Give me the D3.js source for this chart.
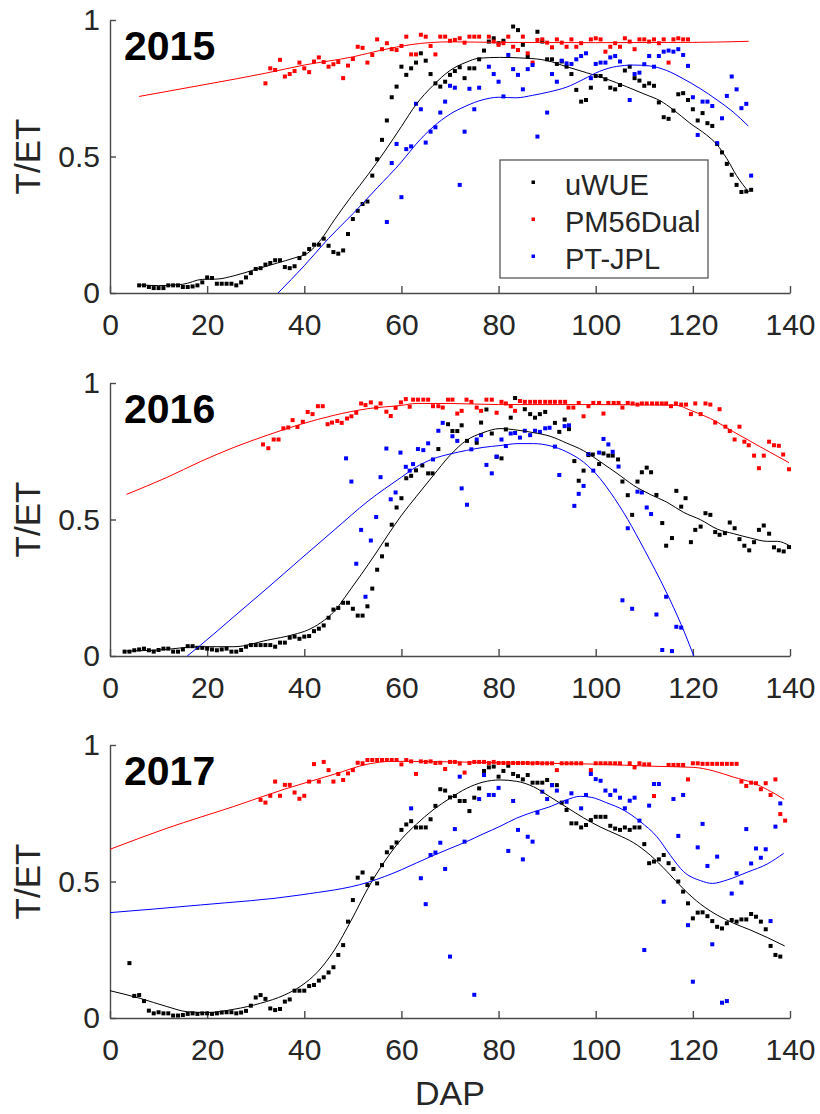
<!DOCTYPE html>
<html>
<head>
<meta charset="utf-8">
<script src="https://cdn.jsdelivr.net/npm/d3@7"></script>
<style>
  body { margin: 0; background: #fff; }
  svg text { font-family: "Liberation Sans", Arial, sans-serif; }
</style>
</head>
<body>
<svg id="chart" width="820" height="1114"></svg>
<script>
// ---- labels / ticks
const years = ["2015", "2016", "2017"];
const seriesNames = ["uWUE", "PM56Dual", "PT-JPL"];
const seriesColors = ["#000000", "#ff0000", "#0000ff"];
const xTicks = [0, 20, 40, 60, 80, 100, 120, 140];
const yTicks = [0, 0.5, 1];
const yTickLabels = ["0", "0.5", "1"];

// ---- 2015 daily points [DAP, T/ET]
const uwue2015 = [[6,.028],[7,.028],[8,.022],[9,.018],[10,.018],[11,.018],[12,.028],[13,.028],[14,.028],[15,.022],[16,.022],[17,.024],[18,.028],[19,.039],[20,.057],[21,.055],[22,.034],[23,.034],[24,.034],[25,.034],[26,.028],[27,.039],[28,.057],[29,.073],[30,.088],[31,.091],[32,.104],[33,.11],[34,.12],[35,.12],[36,.095],[37,.091],[38,.098],[39,.128],[40,.144],[41,.161],[42,.177],[43,.177],[44,.199],[45,.173],[46,.15],[47,.144],[48,.156],[49,.216],[50,.271],[51,.301],[52,.326],[53,.335],[54,.43],[55,.49],[56,.561],[57,.632],[58,.717],[59,.756],[60,.829],[61,.799],[62,.823],[63,.844],[64,.878],[65,.851],[66,.802],[67,.768],[68,.756],[69,.774],[70,.799],[71,.813],[72,.827],[73,.787],[74,.823],[75,.823],[76,.856],[77,.888],[78,.921],[79,.933],[80,.915],[81,.924],[83,.976],[84,.963],[85,.909],[86,.866],[88,.957],[89,.921],[90,.856],[91,.856],[92,.839],[93,.848],[94,.829],[95,.802],[96,.744],[97,.701],[98,.707],[99,.752],[100,.795],[101,.795],[102,.783],[103,.752],[104,.746],[105,.762],[106,.815],[107,.829],[108,.787],[109,.778],[110,.759],[111,.768],[112,.759],[113,.698],[114,.644],[115,.638],[116,.668],[117,.728],[118,.732],[119,.707],[120,.673],[121,.632],[122,.659],[123,.622],[124,.612],[125,.546],[126,.515],[127,.473],[128,.433],[129,.396],[130,.37],[131,.372],[132,.378]];
const pm2015 = [[32,.768],[33,.823],[34,.817],[35,.854],[36,.793],[37,.802],[38,.813],[39,.844],[40,.823],[41,.809],[42,.848],[43,.863],[44,.846],[45,.829],[46,.838],[47,.846],[48,.787],[49,.833],[50,.857],[51,.902],[52,.898],[53,.844],[54,.872],[55,.929],[56,.893],[57,.915],[58,.893],[59,.89],[60,.905],[61,.939],[62,.874],[63,.874],[64,.946],[65,.939],[66,.905],[67,.874],[68,.939],[69,.939],[70,.924],[71,.927],[72,.933],[73,.917],[74,.939],[75,.939],[76,.939],[78,.939],[79,.921],[80,.909],[81,.915],[82,.939],[83,.902],[84,.89],[85,.939],[86,.878],[87,.844],[88,.927],[89,.929],[90,.917],[91,.9],[92,.929],[93,.917],[94,.902],[95,.929],[96,.902],[97,.915],[99,.929],[100,.933],[101,.929],[102,.884],[103,.902],[104,.915],[105,.902],[106,.933],[107,.921],[108,.893],[109,.929],[110,.929],[111,.921],[112,.929],[113,.915],[114,.929],[115,.844],[116,.929],[117,.933],[118,.929],[119,.929]];
const ptjpl2015 = [[57,.26],[58,.476],[59,.546],[60,.351],[61,.527],[62,.537],[63,.693],[64,.673],[65,.551],[66,.591],[67,.607],[68,.661],[69,.701],[70,.759],[71,.752],[72,.396],[73,.591],[74,.748],[75,.673],[76,.752],[78,.829],[79,.802],[80,.774],[81,.72],[82,.872],[83,.82],[84,.799],[85,.746],[86,.82],[87,.835],[88,.573],[90,.661],[91,.802],[92,.774],[93,.851],[94,.841],[95,.839],[96,.856],[97,.868],[98,.878],[99,.787],[100,.839],[101,.844],[102,.844],[103,.863],[104,.868],[105,.848],[107,.707],[108,.802],[109,.807],[110,.838],[111,.868],[112,.829],[113,.868],[114,.884],[115,.888],[116,.884],[117,.893],[118,.872],[119,.832],[120,.717],[121,.579],[122,.701],[123,.701],[124,.685],[125,.549],[126,.64],[127,.722],[128,.793],[129,.746],[130,.677],[131,.693],[132,.43]];
// fitted curves 2015
const uwueFit2015 = [[6,.03],[10,.027],[15,.032],[19,.05],[22,.051],[25.5,.063],[29.7,.085],[34.5,.11],[37.9,.128],[40.7,.146],[43.4,.195],[46.2,.268],[49.7,.354],[53.1,.433],[56.6,.52],[60,.61],[63,.69],[66.5,.76],[70,.815],[73.3,.845],[76,.86],[80.2,.863],[85.7,.86],[89.8,.852],[94,.829],[98.1,.807],[102.2,.784],[106.3,.756],[110.4,.726],[113.2,.705],[116,.671],[119.4,.622],[122.8,.579],[124.9,.545],[127,.492],[129,.43],[131.5,.37]];
const pmFit2015 = [[6,.72],[20,.765],[32,.805],[40,.835],[50,.865],[56,.89],[62,.91],[70,.92],[80,.918],[100,.917],[120,.918],[131.5,.922]];
const ptjplFit2015 = [[34.6,0],[40,.1],[45,.2],[50,.29],[55,.385],[60,.48],[63,.545],[66.5,.608],[70,.655],[73.3,.685],[76.8,.708],[80,.717],[83.6,.715],[87,.724],[90.5,.737],[94,.754],[97.4,.782],[100.8,.812],[104.3,.83],[107.7,.835],[111,.832],[114.6,.815],[118,.785],[121.4,.75],[125,.707],[128.3,.663],[131.4,.612]];

// ---- 2016
const uwue2016 = [[3,.016],[4,.016],[5,.021],[6,.024],[7,.027],[8,.021],[9,.016],[10,.022],[11,.027],[12,.027],[13,.016],[14,.016],[15,.024],[16,.036],[17,.036],[18,.03],[19,.03],[20,.027],[21,.024],[22,.021],[23,.024],[24,.027],[25,.016],[26,.016],[27,.022],[28,.034],[29,.04],[30,.04],[31,.04],[32,.04],[33,.04],[34,.034],[35,.049],[36,.049],[37,.067],[38,.071],[39,.063],[40,.071],[41,.073],[42,.091],[43,.1],[44,.112],[45,.14],[46,.17],[47,.176],[48,.195],[49,.195],[50,.173],[51,.148],[52,.148],[53,.182],[54,.247],[55,.316],[56,.365],[57,.408],[58,.481],[59,.544],[60,.578],[61,.651],[62,.66],[63,.68],[64.3,.698],[65.5,.669],[66.4,.669],[67.6,.758],[69.6,.849],[70.5,.824],[71.5,.824],[72.4,.845],[73.5,.788],[75.5,.781],[76.4,.855],[77.5,.903],[78.6,.815],[79.6,.73],[80.6,.724],[81.5,.83],[82.5,.873],[83.4,.945],[85.4,.904],[86.5,.886],[87.5,.873],[88.5,.886],[89.6,.894],[91.6,.854],[92.5,.821],[93.6,.866],[94.5,.831],[95.6,.714],[96.5,.642],[97.5,.679],[98.5,.736],[99.4,.738],[100.7,.703],[101.6,.742],[102.6,.734],[103.5,.734],[104.6,.72],[105.5,.639],[106.6,.589],[107.5,.517],[108.6,.639],[109.5,.673],[110.5,.69],[111.4,.673],[112.5,.59],[113.7,.487],[114.5,.404],[115.7,.432],[116.6,.605],[117.6,.547],[118.5,.578],[119.6,.417],[120.5,.462],[121.6,.474],[122.6,.523],[123.6,.517],[124.6,.454],[125.5,.444],[126.6,.45],[127.6,.489],[128.6,.468],[129.6,.428],[130.6,.404],[131.6,.387],[132.6,.417],[133.6,.462],[134.6,.478],[135.7,.448],[136.7,.398],[137.7,.387],[138.7,.383],[139.8,.399]];
const pm2016 = [[31.5,.775],[32.6,.761],[33.7,.793],[34.7,.793],[35.7,.834],[36.7,.837],[37.6,.864],[38.6,.839],[39.7,.858],[40.7,.894],[41.7,.886],[42.8,.915],[43.8,.915],[44.8,.849],[45.7,.855],[46.8,.861],[47.7,.854],[48.8,.87],[49.7,.878],[50.7,.891],[51.7,.925],[52.6,.919],[53.7,.929],[54.8,.91],[55.7,.925],[56.9,.895],[57.8,.879],[58.8,.909],[59.9,.929],[60.9,.941],[61.7,.913],[62.4,.939],[63.4,.939],[64.5,.939],[65.5,.939],[66.5,.915],[67.6,.915],[68.5,.91],[69.6,.939],[70.5,.939],[71.5,.888],[72.4,.898],[73.4,.939],[74.4,.931],[75.5,.91],[76.4,.898],[77.5,.939],[78.6,.939],[79.6,.891],[80.6,.931],[81.5,.925],[82.5,.915],[83.4,.898],[84.4,.934],[85.4,.931],[86.5,.931],[87.5,.931],[88.5,.931],[89.6,.931],[90.6,.931],[91.6,.931],[92.7,.931],[93.7,.931],[94.4,.91],[95.4,.91],[96.5,.927],[97.5,.878],[98.5,.915],[99.5,.927],[100.7,.927],[101.6,.888],[102.6,.927],[103.7,.927],[104.7,.927],[105.5,.91],[106.6,.927],[107.6,.925],[108.6,.921],[109.5,.925],[110.5,.925],[111.6,.925],[112.6,.925],[113.6,.925],[114.5,.925],[115.5,.915],[116.5,.925],[117.6,.921],[118.6,.921],[119.6,.886],[120.5,.925],[121.6,.886],[122.6,.925],[123.6,.921],[124.6,.855],[125.5,.904],[126.7,.84],[127.6,.824],[128.6,.793],[129.6,.84],[130.6,.785],[131.5,.772],[132.6,.734],[133.6,.688],[134.6,.734],[135.7,.785],[136.7,.772],[137.7,.77],[138.6,.738],[139.8,.684]];
const ptjpl2016 = [[48.6,.724],[49.7,.639],[50.7,.338],[51.7,.462],[52.6,.217],[53.7,.423],[54.8,.509],[55.7,.655],[56.9,.76],[57.8,.574],[58.8,.599],[59.8,.745],[60.9,.693],[61.7,.679],[62.4,.703],[63.4,.758],[64.5,.754],[65.5,.779],[66.5,.72],[67.6,.825],[68.5,.854],[70.5,.805],[71.5,.788],[72.4,.614],[73.5,.554],[74.4,.757],[75.5,.793],[76.4,.809],[77.5,.7],[78.6,.669],[79.6,.73],[80.6,.793],[81.5,.769],[82.5,.815],[83.4,.817],[84.4,.8],[85.4,.825],[86.5,.809],[87.5,.825],[88.5,.821],[89.6,.834],[90.5,.836],[91.6,.767],[92.5,.663],[93.6,.842],[94.5,.845],[95.6,.55],[96.5,.594],[97.5,.623],[98.5,.74],[99.5,.679],[100.7,.745],[101.6,.795],[102.6,.775],[103.5,.748],[104.7,.694],[105.5,.204],[106.6,.468],[107.5,.173],[108.6,.602],[109.5,.599],[110.5,.544],[111.4,.52],[112.5,.152],[113.7,.022],[114.5,.217],[115.7,.018],[116.6,.107],[117.6,.104]];
const uwueFit2016 = [[3.4,.018],[10,.022],[18.6,.034],[25.5,.034],[32.4,.058],[37.9,.079],[40.7,.095],[43.4,.122],[46.2,.164],[49,.231],[51.7,.298],[54.5,.37],[57.2,.443],[60,.515],[63.1,.585],[66.5,.66],[70,.735],[73.4,.79],[76.8,.818],[80.3,.833],[84,.827],[87.2,.818],[90.6,.805],[94,.78],[97.5,.752],[100.9,.712],[104.4,.669],[107.8,.625],[111.2,.592],[114.7,.563],[118.1,.526],[121.6,.499],[125,.465],[128.4,.448],[131.9,.432],[135.3,.42],[137.4,.42],[139.8,.405]];
const pmFit2016 = [[3.4,.592],[11.7,.654],[18.6,.712],[25.5,.764],[32.4,.809],[39.3,.849],[46.2,.882],[53.1,.906],[60,.918],[63,.925],[70,.925],[80,.921],[100,.921],[110,.92],[116.7,.918],[119.5,.9],[123.6,.87],[128.4,.821],[133.9,.766],[139.8,.708]];
const ptjplFit2016 = [[15.9,0],[18.6,.039],[25.5,.144],[32.4,.249],[39.3,.356],[46.2,.462],[53.1,.567],[60,.655],[63.1,.693],[66.5,.722],[70,.74],[73.4,.753],[76.8,.764],[80.3,.771],[84,.778],[87.2,.778],[90.6,.77],[94,.748],[97.5,.71],[100.9,.65],[103,.6],[106.6,.5],[110,.39],[114.5,.235],[117.6,.115],[120.2,0]];

// ---- 2017
const uwue2017 = [[4,.201],[5,.081],[6,.084],[7,.062],[8,.027],[9,.017],[10,.021],[11,.017],[12,.017],[13,.009],[14,.009],[15,.011],[16,.015],[17,.017],[18,.015],[19,.017],[20,.017],[21,.015],[22,.017],[23,.02],[24,.021],[25,.021],[26,.017],[27,.02],[28,.026],[29,.045],[30,.075],[31,.084],[32,.07],[33,.035],[34,.029],[35,.033],[36,.06],[37,.068],[38,.1],[39,.1],[40,.1],[41,.117],[42,.121],[43,.137],[44,.149],[45,.167],[46,.186],[47,.231],[48,.267],[49,.353],[50,.432],[51,.514],[52,.533],[53,.487],[54,.511],[55,.493],[56,.56],[57,.607],[58,.625],[59,.643],[60,.689],[61,.709],[62,.721],[63,.698],[64,.698],[65,.698],[66,.728],[67,.777],[68,.838],[69,.833],[70,.808],[71,.813],[72,.795],[73,.795],[74,.758],[75,.807],[76,.841],[77,.905],[78,.918],[79,.921],[80,.884],[81,.905],[82,.924],[83,.894],[84,.886],[85,.874],[86,.89],[87,.862],[88,.862],[89,.862],[90,.872],[91,.853],[92,.853],[93,.789],[94,.762],[95,.713],[96,.713],[97,.698],[98,.707],[99,.725],[100,.737],[101,.737],[102,.737],[103,.704],[104,.694],[105,.689],[106,.698],[107,.689],[108,.698],[109,.698],[110,.637],[111,.567],[112,.573],[113,.581],[114,.597],[115,.567],[116,.546],[117,.5],[118,.463],[119,.42],[120,.365],[121,.386],[122,.387],[123,.373],[124,.355],[125,.334],[126,.328],[127,.347],[128,.359],[129,.353],[130,.361],[131,.361],[132,.381],[133,.371],[134,.353],[135,.325],[136,.264],[137,.231],[138,.225]];
const pm2017 = [[31,.799],[32,.789],[33,.814],[34,.866],[35,.814],[36,.854],[37,.854],[38,.826],[39,.803],[40,.814],[41,.866],[42,.93],[43,.866],[44,.938],[45,.908],[46,.866],[47,.894],[48,.872],[49,.896],[50,.908],[51,.935],[52,.933],[53,.945],[54,.945],[55,.945],[56,.945],[57,.945],[58,.945],[59,.945],[60,.929],[61,.945],[62,.94],[63,.894],[64,.94],[65,.938],[66,.94],[67,.934],[68,.935],[69,.912],[70,.938],[71,.938],[72,.932],[73,.899],[74,.934],[75,.938],[76,.938],[77,.938],[78,.934],[79,.938],[80,.934],[81,.934],[82,.934],[83,.934],[84,.934],[85,.934],[86,.934],[87,.933],[88,.934],[89,.933],[90,.933],[91,.933],[92,.908],[93,.933],[94,.933],[95,.933],[96,.933],[97,.933],[99,.908],[100,.933],[101,.933],[102,.933],[103,.933],[104,.933],[105,.933],[107,.933],[108,.918],[109,.933],[110,.929],[111,.929],[112,.813],[115,.927],[116,.927],[117,.927],[118,.927],[119,.874],[120,.933],[121,.933],[122,.931],[123,.931],[124,.931],[125,.931],[126,.931],[127,.931],[128,.931],[129,.931],[130,.866],[131,.85],[132,.862],[133,.86],[134,.838],[135,.86],[136,.817],[137,.874],[138,.747],[139,.723]];
const ptjpl2017 = [[62,.768],[64,.512],[65,.417],[66,.597],[67,.606],[68,.642],[69,.546],[70,.225],[71,.692],[72,.884],[73,.646],[75,.085],[76,.802],[77,.89],[78,.817],[79,.817],[80,.843],[82,.612],[83,.795],[84,.689],[85,.581],[86,.664],[87,.646],[88,.752],[89,.829],[90,.802],[91,.853],[92,.833],[94,.792],[95,.823],[97,.768],[98,.817],[99,.894],[100,.875],[101,.869],[102,.833],[103,.817],[104,.833],[105,.807],[106,.768],[107,.796],[108,.807],[109,.723],[110,.249],[111,.778],[112,.857],[113,.857],[114,.426],[116,.802],[117,.667],[118,.817],[119,.34],[120,.133],[121,.625],[122,.711],[123,.557],[124,.27],[125,.591],[126,.056],[127,.062],[128,.456],[129,.53],[130,.496],[131,.692],[132,.566],[133,.621],[134,.587],[135,.618],[136,.355],[137,.701],[138,.786]];
const uwueFit2017 = [[0,.1],[6.2,.072],[11.7,.042],[15.9,.023],[20,.02],[25.5,.032],[31,.054],[35.9,.084],[39.3,.117],[42.8,.17],[46.2,.249],[49.7,.359],[53.1,.475],[56.6,.575],[60,.655],[63.1,.71],[66.5,.762],[70,.805],[73.4,.841],[76.8,.864],[80.3,.872],[83.7,.867],[87.2,.847],[90.6,.81],[94,.772],[97.5,.733],[100.9,.7],[104.4,.672],[107.8,.642],[111.2,.597],[114.7,.536],[118.1,.472],[121.6,.417],[125,.377],[128.4,.347],[131.9,.322],[135.3,.295],[138.9,.264]];
const pmFit2017 = [[0,.618],[11.7,.695],[25.5,.775],[35.9,.838],[46.2,.893],[53.1,.93],[58,.94],[62,.94],[80,.935],[100,.93],[112,.922],[120.2,.918],[124.3,.905],[128.4,.882],[132.6,.86],[135.3,.837],[138.8,.801]];
const ptjplFit2017 = [[0,.386],[18.6,.414],[39.3,.451],[53.1,.497],[60,.543],[63.1,.568],[66.5,.595],[70,.621],[73.4,.646],[76.8,.674],[80.3,.702],[83.7,.732],[87.2,.755],[90.6,.774],[94,.799],[96.8,.812],[99.2,.808],[102.3,.788],[105.7,.762],[109.2,.719],[112.6,.664],[115.4,.595],[118.1,.536],[121.6,.503],[124,.493],[127.1,.506],[131.2,.534],[135.3,.564],[138.7,.603]];

const panelPoints = [
  [uwue2015, pm2015, ptjpl2015],
  [uwue2016, pm2016, ptjpl2016],
  [uwue2017, pm2017, ptjpl2017]
];
const panelFits = [
  [uwueFit2015, pmFit2015, ptjplFit2015],
  [uwueFit2016, pmFit2016, ptjplFit2016],
  [uwueFit2017, pmFit2017, ptjplFit2017]
];

// ---- layout
const panelTop = [20, 383, 745],
      panelH = 273,
      axisColor = "#4a4a4a",
      textColor = "#262626";

const svg = d3.select("#chart");

const x = d3.scaleLinear().domain([0, 140]).range([110, 790]);

years.forEach(function(yr, p) {
  const top = panelTop[p];
  const y = d3.scaleLinear().domain([0, 1]).range([top + panelH, top]);
  const g = svg.append("g").attr("class", "panel");

  // x axis, ticks inward
  const xAxis = g.append("g")
    .attr("transform", "translate(0," + (top + panelH) + ")")
    .call(d3.axisBottom(x).tickValues(xTicks).tickSizeInner(-7).tickSizeOuter(0).tickPadding(21));

  // y axis
  const yAxis = g.append("g")
    .attr("transform", "translate(110,0)")
    .call(d3.axisLeft(y).tickValues(yTicks).tickFormat((d, i) => yTickLabels[i])
      .tickSizeInner(-6).tickSizeOuter(0).tickPadding(10));

  [xAxis, yAxis].forEach(function(a) {
    a.attr("font-family", null).attr("font-size", 30);
    a.select(".domain").attr("stroke", axisColor).attr("stroke-width", 1.4);
    a.selectAll(".tick line").attr("stroke", axisColor).attr("stroke-width", 1.4);
    a.selectAll(".tick text").attr("fill", textColor);
  });

  // y label
  g.append("text")
    .attr("transform", "translate(40," + (top + panelH / 2) + ") rotate(-90)")
    .attr("text-anchor", "middle")
    .attr("font-size", 35)
    .attr("fill", textColor)
    .text("T/ET");

  // scatter points
  panelPoints[p].forEach(function(pts, s) {
    g.append("g").selectAll("rect")
      .data(pts)
      .enter().append("rect")
      .attr("x", d => x(d[0]) - 2)
      .attr("y", d => y(d[1]) - 2)
      .attr("width", 4)
      .attr("height", 4)
      .attr("fill", seriesColors[s]);
  });

  // smoothed fits
  const line = d3.line()
    .x(d => x(d[0]))
    .y(d => y(d[1]))
    .curve(d3.curveMonotoneX);

  panelFits[p].forEach(function(pts, s) {
    g.append("path")
      .datum(pts)
      .attr("d", line)
      .attr("fill", "none")
      .attr("stroke", seriesColors[s])
      .attr("stroke-width", 1);
  });

  // year
  g.append("text")
    .attr("x", 124)
    .attr("y", top + 40)
    .attr("font-size", 41)
    .attr("font-weight", "bold")
    .attr("fill", "#000")
    .text(yr);
});

// x label
svg.append("text")
  .attr("x", 450)
  .attr("y", 1105)
  .attr("text-anchor", "middle")
  .attr("font-size", 34)
  .attr("fill", textColor)
  .text("DAP");

// legend (top panel)
const legend = svg.append("g").attr("class", "legend");
legend.append("rect")
  .attr("x", 500).attr("y", 160)
  .attr("width", 208).attr("height", 118)
  .attr("fill", "#fff")
  .attr("stroke", axisColor)
  .attr("stroke-width", 1.2);

seriesNames.forEach(function(name, i) {
  const by = 195 + i * 37;
  legend.append("rect")
    .attr("x", 531.5).attr("y", by - 14.5)
    .attr("width", 3.5).attr("height", 3.5)
    .attr("fill", seriesColors[i]);
  legend.append("text")
    .attr("x", 565).attr("y", by)
    .attr("font-size", 29)
    .attr("fill", textColor)
    .text(name);
});
</script>
</body>
</html>
